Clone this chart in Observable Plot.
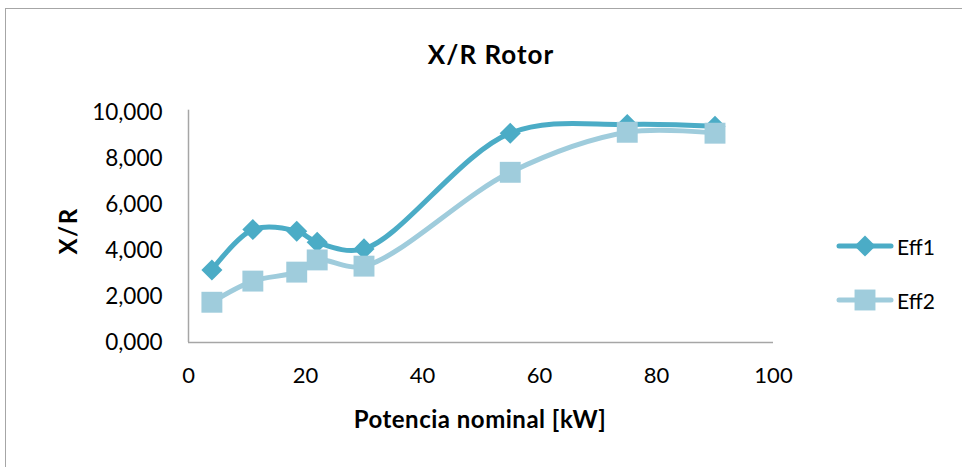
<!DOCTYPE html>
<html>
<head>
<meta charset="utf-8">
<script src="https://cdn.jsdelivr.net/npm/d3@7"></script>
<script src="https://cdn.jsdelivr.net/npm/@observablehq/plot@0.6"></script>
<style>
  html, body { margin: 0; padding: 0; background: #fff; overflow: hidden; width: 962px; height: 467px; }
  body { position: relative; font-family: Lato, "Open Sans", sans-serif; }
  #frame { position: absolute; left: 5px; top: 8px; width: 1200px; height: 1000px; border: 1px solid #a6a6a6; box-sizing: border-box; }
  #chart { position: absolute; left: 0; top: 0; }
  .title { position: absolute; left: 491px; top: 54px; transform: translate(-50%, -50%); font-weight: bold; font-size: 26px; letter-spacing: 1px; color: #000; white-space: nowrap; }
  .xlabel { position: absolute; left: 480px; top: 418px; transform: translate(-50%, -50%); font-weight: bold; font-size: 24px; letter-spacing: 0.5px; color: #000; white-space: nowrap; }
  .ylabel { position: absolute; left: 67px; top: 231px; transform: translate(-50%, -50%) rotate(-90deg); font-weight: bold; font-size: 24px; letter-spacing: 1.5px; color: #000; white-space: nowrap; }
  .legend { position: absolute; left: 836px; }
  .legend .item { position: absolute; left: 0; display: flex; align-items: center; white-space: nowrap; font-size: 21px; color: #000; }
  .legend svg { display: block; margin-right: 3px; }
</style>
</head>
<body>
<div id="frame"></div>
<div id="chart"></div>
<div class="title">X/R Rotor</div>
<div class="xlabel">Potencia nominal [kW]</div>
<div class="ylabel">X/R</div>
<div class="legend" id="legend"></div>
<script>
// Data
const potencia = [4, 11, 18.5, 22, 30, 55, 75, 90];
const eff1 = [3.15, 4.91, 4.84, 4.36, 4.07, 9.10, 9.48, 9.40];
const eff2 = [1.75, 2.67, 3.06, 3.59, 3.32, 7.40, 9.14, 9.10];
const seriesNames = ["Eff1", "Eff2"];
const xTicks = [0, 20, 40, 60, 80, 100];
const yTicks = [0, 2, 4, 6, 8, 10];

const colors = {Eff1: "#4BACC6", Eff2: "#9FCCDC"};
const symbols = {Eff1: "diamond2", Eff2: "square"};
const radii = {Eff1: 9.5, Eff2: 11.8};

const rows = [];
potencia.forEach((p, i) => {
  rows.push({series: "Eff1", x: p, y: eff1[i]});
  rows.push({series: "Eff2", x: p, y: eff2[i]});
});

const fmt = d => d.toFixed(3).replace(".", ",");

const marks = [
  Plot.ruleY([0], {stroke: "#a6a6a6", strokeWidth: 1.5}),
  Plot.ruleX([0], {stroke: "#a6a6a6", strokeWidth: 1.5, y1: 0, y2: 10.1}),
  Plot.axisX({ticks: xTicks, tickSize: 0, tickPadding: 25, fontSize: 22, tickFormat: d => String(d)}),
  Plot.axisY({ticks: yTicks, tickSize: 0, tickPadding: 26, fontSize: 22.5, tickFormat: fmt}),
];
for (const s of seriesNames) {
  const data = rows.filter(r => r.series === s);
  marks.push(Plot.line(data, {x: "x", y: "y", stroke: colors[s], strokeWidth: 5, curve: "catmull-rom", strokeLinejoin: "round", strokeLinecap: "round"}));
  marks.push(Plot.dot(data, {x: "x", y: "y", symbol: symbols[s], r: radii[s], fill: colors[s], stroke: "none"}));
}

const chart = Plot.plot({
  width: 962,
  height: 467,
  marginLeft: 188,
  marginRight: 189,
  marginTop: 112,
  marginBottom: 125,
  style: {fontFamily: "Lato, 'Open Sans', sans-serif", color: "#000", background: "transparent", overflow: "visible"},
  x: {domain: [0, 100], label: null},
  y: {domain: [0, 10], label: null},
  marks
});
document.getElementById("chart").appendChild(chart);

// Legend
const legend = document.getElementById("legend");
const legendY = [246, 300];
seriesNames.forEach((s, i) => {
  const item = document.createElement("div");
  item.className = "item";
  item.style.top = (legendY[i] - 15) + "px";
  item.style.height = "30px";
  const w = 58, h = 30;
  const svg = d3.create("svg").attr("width", w).attr("height", h);
  svg.append("line").attr("x1", 3).attr("x2", w - 3).attr("y1", h / 2).attr("y2", h / 2)
    .attr("stroke", colors[s]).attr("stroke-width", 5).attr("stroke-linecap", "round");
  const sym = s === "Eff1" ? d3.symbolDiamond2 : d3.symbolSquare;
  const size = Math.PI * radii[s] * radii[s];
  svg.append("path").attr("d", d3.symbol(sym, size)()).attr("transform", `translate(${w / 2},${h / 2})`).attr("fill", colors[s]);
  item.appendChild(svg.node());
  const t = document.createElement("span");
  t.textContent = s;
  item.appendChild(t);
  legend.appendChild(item);
});
</script>
</body>
</html>
